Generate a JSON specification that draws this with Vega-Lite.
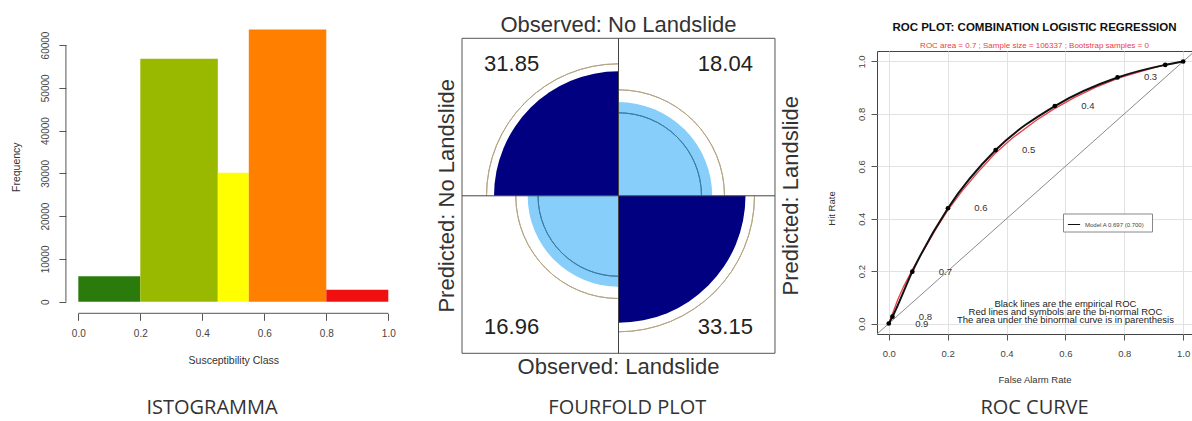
{
 "$schema": "https://vega.github.io/schema/vega-lite/v6.json",
 "background": "white",
 "padding": {"left": 5, "top": 10, "right": 0, "bottom": 0},
 "bounds": "flush",
 "spacing": 10,
 "resolve": {"scale": {"color": "independent", "fill": "independent", "stroke": "independent"}, "legend": {"color": "independent", "fill": "independent", "stroke": "independent"}},
 "config": {"view": {"stroke": null}, "font": "Liberation Sans"},
 "datasets": {
  "bars": [
   {"class": "Very low", "lo": 0, "hi": 0.2, "freq": 5950},
   {"class": "Low", "lo": 0.2, "hi": 0.45, "freq": 56800},
   {"class": "Moderate", "lo": 0.45, "hi": 0.55, "freq": 30150},
   {"class": "High", "lo": 0.55, "hi": 0.8, "freq": 63600},
   {"class": "Very high", "lo": 0.8, "hi": 1.0, "freq": 2800}
  ],
  "cells": [
   {"observed": "No Landslide", "predicted": "No Landslide", "pct": 31.85, "lo": 28.4, "hi": 35.81},
   {"observed": "No Landslide", "predicted": "Landslide", "pct": 18.04, "lo": 14.16, "hi": 23.09},
   {"observed": "Landslide", "predicted": "No Landslide", "pct": 16.96, "lo": 13.31, "hi": 21.69},
   {"observed": "Landslide", "predicted": "Landslide", "pct": 33.15, "lo": 29.6, "hi": 38.02}
  ],
  "roc": [
   {"threshold": 0.9, "far": 0, "hr": 0},
   {"threshold": 0.8, "far": 0.0125, "hr": 0.026},
   {"threshold": 0.7, "far": 0.08, "hr": 0.198},
   {"threshold": 0.6, "far": 0.201, "hr": 0.44},
   {"threshold": 0.5, "far": 0.363, "hr": 0.662},
   {"threshold": 0.4, "far": 0.564, "hr": 0.83},
   {"threshold": 0.3, "far": 0.777, "hr": 0.939},
   {"threshold": 0.2, "far": 0.939, "hr": 0.987},
   {"threshold": 0.1, "far": 1, "hr": 1}
  ],
  "binormal": [
   {"far": 0, "hr": 0}, {"far": 0.01, "hr": 0.03}, {"far": 0.03, "hr": 0.09},
   {"far": 0.05, "hr": 0.14}, {"far": 0.08, "hr": 0.205}, {"far": 0.12, "hr": 0.283},
   {"far": 0.16, "hr": 0.36}, {"far": 0.2, "hr": 0.432}, {"far": 0.25, "hr": 0.507},
   {"far": 0.3, "hr": 0.574}, {"far": 0.36, "hr": 0.648}, {"far": 0.42, "hr": 0.708},
   {"far": 0.5, "hr": 0.775}, {"far": 0.56, "hr": 0.818}, {"far": 0.63, "hr": 0.862},
   {"far": 0.7, "hr": 0.9}, {"far": 0.78, "hr": 0.936}, {"far": 0.86, "hr": 0.963},
   {"far": 0.93, "hr": 0.985}, {"far": 1, "hr": 1}
  ],
  "one": [{}]
 },
 "hconcat": [
  {
   "width": 395.7, "height": 303.3,
   "title": {"text": "ISTOGRAMMA", "orient": "bottom", "frame": "group", "anchor": "middle", "dx": 9.2, "offset": 32.5, "font": "Open Sans", "fontSize": 20, "fontWeight": "normal", "color": "#333333"},
   "layer": [
    {"data": {"name": "bars"}, "mark": {"type": "rect"},
     "encoding": {
      "x": {"field": "lo", "type": "quantitative", "scale": {"domain": [-0.2365, 1.04], "nice": false, "zero": false},
            "axis": {"values": [0, 0.2, 0.4, 0.6, 0.8, 1], "format": ".1f", "domain": false, "grid": false, "labelFlush": false, "labelOverlap": false, "tickSize": 7, "tickColor": "#555", "labelPadding": 8, "labelFontSize": 10, "labelColor": "#444", "title": "Susceptibility Class", "titleFontSize": 10.5, "titleFontWeight": "normal", "titleColor": "#333", "titlePadding": 17, "titleX": 228.3}},
      "x2": {"field": "hi"},
      "y": {"field": "freq", "type": "quantitative", "scale": {"domain": [-2711, 68181], "nice": false, "zero": false},
            "axis": {"values": [0, 10000, 20000, 30000, 40000, 50000, 60000], "format": "d", "labelAngle": 270, "domain": false, "grid": false, "labelFlush": false, "labelOverlap": false, "offset": -60.9, "tickSize": 7, "tickColor": "#555", "labelPadding": 8, "labelFontSize": 10, "labelColor": "#444", "title": "Frequency", "titleFontSize": 10.5, "titleFontWeight": "normal", "titleColor": "#333", "titlePadding": 19, "titleY": 156.7}},
      "y2": {"datum": 0},
      "fill": {"field": "class", "type": "nominal", "scale": {"domain": ["Very low", "Low", "Moderate", "High", "Very high"], "range": ["#2a7a0c", "#99b800", "#ffff00", "#ff8000", "#f01010"]}, "legend": null}
     }},
    {"data": {"name": "one"}, "mark": {"type": "rule", "color": "#555", "strokeWidth": 1},
     "encoding": {
      "x": {"datum": 0, "type": "quantitative", "scale": {"domain": [-0.2365, 1.04], "nice": false, "zero": false}},
      "x2": {"datum": 1},
      "y": {"datum": -2711, "type": "quantitative", "scale": {"domain": [-2711, 68181], "nice": false, "zero": false}}
     }},
    {"data": {"name": "one"}, "mark": {"type": "rule", "color": "#555", "strokeWidth": 1},
     "encoding": {
      "x": {"datum": -0.04, "type": "quantitative", "scale": {"domain": [-0.2365, 1.04], "nice": false, "zero": false}},
      "y": {"datum": 0, "type": "quantitative", "scale": {"domain": [-2711, 68181], "nice": false, "zero": false}},
      "y2": {"datum": 60000}
     }}
   ]
  },
  {
   "width": 455.8, "height": 343.3,
   "data": {"name": "cells"},
   "title": {"text": "FOURFOLD PLOT", "orient": "bottom", "frame": "group", "anchor": "middle", "dx": -11.6, "offset": 19.5, "font": "Open Sans", "fontSize": 20, "fontWeight": "normal", "color": "#333333"},
   "layer": [
    {"data": {"name": "one"}, "mark": {"type": "rect", "filled": false, "color": "#555", "strokeWidth": 1},
     "encoding": {
      "x": {"datum": -1, "type": "quantitative", "scale": {"domain": [-1.3259, 1.5866], "nice": false, "zero": false}, "axis": null},
      "x2": {"datum": 1},
      "y": {"datum": -1, "type": "quantitative", "scale": {"domain": [-1, 1.1797], "nice": false, "zero": false}, "axis": null},
      "y2": {"datum": 1}
     }},
    {"transform": [{"filter": "datum.observed == 'No Landslide' && datum.predicted == 'Landslide'"}],
     "layer": [
      {"mark": {"type": "arc", "theta": 0, "theta2": 1.5708, "color": "#87cefa"},
       "encoding": {
        "x": {"datum": 0, "type": "quantitative", "scale": {"domain": [-1.3259, 1.5866], "nice": false, "zero": false}, "axis": null},
        "y": {"datum": 0, "type": "quantitative", "scale": {"domain": [-1, 1.1797], "nice": false, "zero": false}, "axis": null},
        "radius": {"field": "pct", "type": "quantitative", "scale": {"type": "sqrt", "domain": [0, 33.15], "range": [0, 127], "zero": true}, "legend": null}
       }},
      {"mark": {"type": "arc", "theta": 0, "theta2": 1.5708, "filled": false, "color": "#3a7ca5", "strokeWidth": 1},
       "encoding": {
        "x": {"datum": 0, "type": "quantitative", "scale": {"domain": [-1.3259, 1.5866], "nice": false, "zero": false}, "axis": null},
        "y": {"datum": 0, "type": "quantitative", "scale": {"domain": [-1, 1.1797], "nice": false, "zero": false}, "axis": null},
        "radius": {"field": "lo", "type": "quantitative", "scale": {"type": "sqrt", "domain": [0, 33.15], "range": [0, 127], "zero": true}, "legend": null},
        "radius2": {"field": "lo"}
       }},
      {"mark": {"type": "arc", "theta": 0, "theta2": 1.5708, "filled": false, "color": "#b5a585", "strokeWidth": 1},
       "encoding": {
        "x": {"datum": 0, "type": "quantitative", "scale": {"domain": [-1.3259, 1.5866], "nice": false, "zero": false}, "axis": null},
        "y": {"datum": 0, "type": "quantitative", "scale": {"domain": [-1, 1.1797], "nice": false, "zero": false}, "axis": null},
        "radius": {"field": "hi", "type": "quantitative", "scale": {"type": "sqrt", "domain": [0, 33.15], "range": [0, 127], "zero": true}, "legend": null},
        "radius2": {"field": "hi"}
       }},
      {"mark": {"type": "text", "fontSize": 22, "color": "#222", "align": "center", "baseline": "middle"},
       "encoding": {
        "x": {"datum": 0.683, "type": "quantitative", "scale": {"domain": [-1.3259, 1.5866], "nice": false, "zero": false}, "axis": null},
        "y": {"datum": 0.835, "type": "quantitative", "scale": {"domain": [-1, 1.1797], "nice": false, "zero": false}, "axis": null},
        "text": {"field": "pct", "type": "quantitative", "format": ".2f"}
       }}
     ]},
    {"transform": [{"filter": "datum.observed == 'Landslide' && datum.predicted == 'Landslide'"}],
     "layer": [
      {"mark": {"type": "arc", "theta": 1.5708, "theta2": 3.1416, "color": "#000080"},
       "encoding": {
        "x": {"datum": 0, "type": "quantitative", "scale": {"domain": [-1.3259, 1.5866], "nice": false, "zero": false}, "axis": null},
        "y": {"datum": 0, "type": "quantitative", "scale": {"domain": [-1, 1.1797], "nice": false, "zero": false}, "axis": null},
        "radius": {"field": "pct", "type": "quantitative", "scale": {"type": "sqrt", "domain": [0, 33.15], "range": [0, 127], "zero": true}, "legend": null}
       }},
      {"mark": {"type": "arc", "theta": 1.5708, "theta2": 3.1416, "filled": false, "color": "#b5a585", "strokeWidth": 1},
       "encoding": {
        "x": {"datum": 0, "type": "quantitative", "scale": {"domain": [-1.3259, 1.5866], "nice": false, "zero": false}, "axis": null},
        "y": {"datum": 0, "type": "quantitative", "scale": {"domain": [-1, 1.1797], "nice": false, "zero": false}, "axis": null},
        "radius": {"field": "hi", "type": "quantitative", "scale": {"type": "sqrt", "domain": [0, 33.15], "range": [0, 127], "zero": true}, "legend": null},
        "radius2": {"field": "hi"}
       }},
      {"mark": {"type": "text", "fontSize": 22, "color": "#222", "align": "center", "baseline": "middle"},
       "encoding": {
        "x": {"datum": 0.683, "type": "quantitative", "scale": {"domain": [-1.3259, 1.5866], "nice": false, "zero": false}, "axis": null},
        "y": {"datum": -0.835, "type": "quantitative", "scale": {"domain": [-1, 1.1797], "nice": false, "zero": false}, "axis": null},
        "text": {"field": "pct", "type": "quantitative", "format": ".2f"}
       }}
     ]},
    {"transform": [{"filter": "datum.observed == 'Landslide' && datum.predicted == 'No Landslide'"}],
     "layer": [
      {"mark": {"type": "arc", "theta": 3.1416, "theta2": 4.7124, "color": "#87cefa"},
       "encoding": {
        "x": {"datum": 0, "type": "quantitative", "scale": {"domain": [-1.3259, 1.5866], "nice": false, "zero": false}, "axis": null},
        "y": {"datum": 0, "type": "quantitative", "scale": {"domain": [-1, 1.1797], "nice": false, "zero": false}, "axis": null},
        "radius": {"field": "pct", "type": "quantitative", "scale": {"type": "sqrt", "domain": [0, 33.15], "range": [0, 127], "zero": true}, "legend": null}
       }},
      {"mark": {"type": "arc", "theta": 3.1416, "theta2": 4.7124, "filled": false, "color": "#3a7ca5", "strokeWidth": 1},
       "encoding": {
        "x": {"datum": 0, "type": "quantitative", "scale": {"domain": [-1.3259, 1.5866], "nice": false, "zero": false}, "axis": null},
        "y": {"datum": 0, "type": "quantitative", "scale": {"domain": [-1, 1.1797], "nice": false, "zero": false}, "axis": null},
        "radius": {"field": "lo", "type": "quantitative", "scale": {"type": "sqrt", "domain": [0, 33.15], "range": [0, 127], "zero": true}, "legend": null},
        "radius2": {"field": "lo"}
       }},
      {"mark": {"type": "arc", "theta": 3.1416, "theta2": 4.7124, "filled": false, "color": "#b5a585", "strokeWidth": 1},
       "encoding": {
        "x": {"datum": 0, "type": "quantitative", "scale": {"domain": [-1.3259, 1.5866], "nice": false, "zero": false}, "axis": null},
        "y": {"datum": 0, "type": "quantitative", "scale": {"domain": [-1, 1.1797], "nice": false, "zero": false}, "axis": null},
        "radius": {"field": "hi", "type": "quantitative", "scale": {"type": "sqrt", "domain": [0, 33.15], "range": [0, 127], "zero": true}, "legend": null},
        "radius2": {"field": "hi"}
       }},
      {"mark": {"type": "text", "fontSize": 22, "color": "#222", "align": "center", "baseline": "middle"},
       "encoding": {
        "x": {"datum": -0.683, "type": "quantitative", "scale": {"domain": [-1.3259, 1.5866], "nice": false, "zero": false}, "axis": null},
        "y": {"datum": -0.835, "type": "quantitative", "scale": {"domain": [-1, 1.1797], "nice": false, "zero": false}, "axis": null},
        "text": {"field": "pct", "type": "quantitative", "format": ".2f"}
       }}
     ]},
    {"transform": [{"filter": "datum.observed == 'No Landslide' && datum.predicted == 'No Landslide'"}],
     "layer": [
      {"mark": {"type": "arc", "theta": 4.7124, "theta2": 6.2832, "color": "#000080"},
       "encoding": {
        "x": {"datum": 0, "type": "quantitative", "scale": {"domain": [-1.3259, 1.5866], "nice": false, "zero": false}, "axis": null},
        "y": {"datum": 0, "type": "quantitative", "scale": {"domain": [-1, 1.1797], "nice": false, "zero": false}, "axis": null},
        "radius": {"field": "pct", "type": "quantitative", "scale": {"type": "sqrt", "domain": [0, 33.15], "range": [0, 127], "zero": true}, "legend": null}
       }},
      {"mark": {"type": "arc", "theta": 4.7124, "theta2": 6.2832, "filled": false, "color": "#b5a585", "strokeWidth": 1},
       "encoding": {
        "x": {"datum": 0, "type": "quantitative", "scale": {"domain": [-1.3259, 1.5866], "nice": false, "zero": false}, "axis": null},
        "y": {"datum": 0, "type": "quantitative", "scale": {"domain": [-1, 1.1797], "nice": false, "zero": false}, "axis": null},
        "radius": {"field": "hi", "type": "quantitative", "scale": {"type": "sqrt", "domain": [0, 33.15], "range": [0, 127], "zero": true}, "legend": null},
        "radius2": {"field": "hi"}
       }},
      {"mark": {"type": "text", "fontSize": 22, "color": "#222", "align": "center", "baseline": "middle"},
       "encoding": {
        "x": {"datum": -0.683, "type": "quantitative", "scale": {"domain": [-1.3259, 1.5866], "nice": false, "zero": false}, "axis": null},
        "y": {"datum": 0.835, "type": "quantitative", "scale": {"domain": [-1, 1.1797], "nice": false, "zero": false}, "axis": null},
        "text": {"field": "pct", "type": "quantitative", "format": ".2f"}
       }}
     ]},
    {"data": {"name": "one"}, "mark": {"type": "rule", "color": "#444", "strokeWidth": 1},
     "encoding": {
      "x": {"datum": 0, "type": "quantitative", "scale": {"domain": [-1.3259, 1.5866], "nice": false, "zero": false}, "axis": null},
      "y": {"datum": -1, "type": "quantitative", "scale": {"domain": [-1, 1.1797], "nice": false, "zero": false}, "axis": null},
      "y2": {"datum": 1}
     }},
    {"data": {"name": "one"}, "mark": {"type": "rule", "color": "#444", "strokeWidth": 1},
     "encoding": {
      "x": {"datum": -1, "type": "quantitative", "scale": {"domain": [-1.3259, 1.5866], "nice": false, "zero": false}, "axis": null},
      "x2": {"datum": 1},
      "y": {"datum": 0, "type": "quantitative", "scale": {"domain": [-1, 1.1797], "nice": false, "zero": false}, "axis": null}
     }},
    {"data": {"name": "one"}, "mark": {"type": "text", "fontSize": 22, "color": "#333", "align": "center", "baseline": "middle"},
     "encoding": {
      "x": {"datum": 0, "type": "quantitative", "scale": {"domain": [-1.3259, 1.5866], "nice": false, "zero": false}, "axis": null},
      "y": {"datum": 1.085, "type": "quantitative", "scale": {"domain": [-1, 1.1797], "nice": false, "zero": false}, "axis": null},
      "text": {"value": "Observed: No Landslide"}
     }},
    {"data": {"name": "one"}, "mark": {"type": "text", "fontSize": 22, "color": "#333", "align": "center", "baseline": "middle"},
     "encoding": {
      "x": {"datum": 0, "type": "quantitative", "scale": {"domain": [-1.3259, 1.5866], "nice": false, "zero": false}, "axis": null},
      "y": {"datum": -1.087, "type": "quantitative", "scale": {"domain": [-1, 1.1797], "nice": false, "zero": false}, "axis": null},
      "text": {"value": "Observed: Landslide"}
     }},
    {"data": {"name": "one"}, "mark": {"type": "text", "fontSize": 22, "color": "#333", "align": "center", "baseline": "middle", "angle": 270},
     "encoding": {
      "x": {"datum": -1.094, "type": "quantitative", "scale": {"domain": [-1.3259, 1.5866], "nice": false, "zero": false}, "axis": null},
      "y": {"datum": 0, "type": "quantitative", "scale": {"domain": [-1, 1.1797], "nice": false, "zero": false}, "axis": null},
      "text": {"value": "Predicted: No Landslide"}
     }},
    {"data": {"name": "one"}, "mark": {"type": "text", "fontSize": 22, "color": "#333", "align": "center", "baseline": "middle", "angle": 270},
     "encoding": {
      "x": {"datum": 1.104, "type": "quantitative", "scale": {"domain": [-1.3259, 1.5866], "nice": false, "zero": false}, "axis": null},
      "y": {"datum": 0, "type": "quantitative", "scale": {"domain": [-1, 1.1797], "nice": false, "zero": false}, "axis": null},
      "text": {"value": "Predicted: Landslide"}
     }}
   ]
  },
  {
   "vconcat": [
    {
     "width": 315, "height": 40.2,
     "data": {"name": "one"},
     "mark": {"type": "text"},
     "encoding": {"text": {"value": ""}},
     "title": {"text": "ROC PLOT: COMBINATION LOGISTIC REGRESSION", "subtitle": "ROC area = 0.7 ; Sample size = 106337 ; Bootstrap samples = 0", "orient": "bottom", "frame": "group", "anchor": "middle", "offset": -28.2, "font": "Liberation Sans", "fontSize": 11.5, "fontWeight": "bold", "color": "#111", "subtitleFont": "Liberation Sans", "subtitleFontSize": 8, "subtitleColor": "#ee3b4b", "subtitlePadding": 8}
    },
    {
     "width": 315, "height": 283,
     "view": {"stroke": "#444", "strokeWidth": 1},
     "title": {"text": "ROC CURVE", "orient": "bottom", "frame": "group", "anchor": "middle", "offset": 14, "font": "Open Sans", "fontSize": 20, "fontWeight": "normal", "color": "#333333"},
     "layer": [
      {"data": {"name": "binormal"}, "mark": {"type": "line", "color": "#e8404a", "strokeWidth": 1.3},
       "encoding": {
        "x": {"field": "far", "type": "quantitative", "scale": {"domain": [-0.04, 1.03], "nice": false, "zero": false},
              "axis": {"title": "False Alarm Rate", "values": [0, 0.1, 0.2, 0.3, 0.4, 0.5, 0.6, 0.7, 0.8, 0.9, 1], "labelExpr": "round(datum.value*10)%2==0 ? format(datum.value,'.1f') : ''", "grid": true, "gridColor": "#e2e2e2", "domain": false, "labelFlush": false, "labelOverlap": false, "tickSize": 6, "tickColor": "#555", "tickOpacity": {"condition": {"test": "round(datum.value*10)%2!=0", "value": 0}, "value": 1}, "labelFontSize": 9.5, "labelColor": "#444", "labelPadding": 8.5, "titleFontSize": 9.5, "titleFontWeight": "normal", "titleColor": "#333", "titlePadding": 16}},
        "y": {"field": "hr", "type": "quantitative", "scale": {"domain": [-0.04, 1.04], "nice": false, "zero": false},
              "axis": {"title": "Hit Rate", "values": [0, 0.1, 0.2, 0.3, 0.4, 0.5, 0.6, 0.7, 0.8, 0.9, 1], "labelExpr": "round(datum.value*10)%2==0 ? format(datum.value,'.1f') : ''", "labelAngle": 270, "grid": true, "gridColor": "#e2e2e2", "domain": false, "labelFlush": false, "labelOverlap": false, "tickSize": 6, "tickColor": "#555", "tickOpacity": {"condition": {"test": "round(datum.value*10)%2!=0", "value": 0}, "value": 1}, "labelFontSize": 9.5, "labelColor": "#444", "labelPadding": 5, "titleFontSize": 9.5, "titleFontWeight": "normal", "titleColor": "#333", "titlePadding": 20, "titleY": 157}}
       }},
      {"data": {"name": "one"}, "mark": {"type": "rule", "color": "#8a8a8a", "strokeWidth": 1, "clip": true},
       "encoding": {
        "x": {"datum": -0.04, "type": "quantitative", "scale": {"domain": [-0.04, 1.03], "nice": false, "zero": false}},
        "y": {"datum": -0.04, "type": "quantitative", "scale": {"domain": [-0.04, 1.04], "nice": false, "zero": false}},
        "x2": {"datum": 1.04},
        "y2": {"datum": 1.04}
       }},
      {"data": {"name": "roc"}, "mark": {"type": "line", "strokeWidth": 2, "interpolate": "monotone"},
       "encoding": {
        "x": {"field": "far", "type": "quantitative", "scale": {"domain": [-0.04, 1.03], "nice": false, "zero": false}},
        "y": {"field": "hr", "type": "quantitative", "scale": {"domain": [-0.04, 1.04], "nice": false, "zero": false}},
        "stroke": {"datum": "Model A   0.697 (0.700)", "type": "nominal", "scale": {"range": ["#111111"]},
                  "legend": {"orient": "none", "legendX": 186, "legendY": 203.5, "title": null, "strokeColor": "#888", "fillColor": "white", "padding": 4, "symbolType": "stroke", "symbolSize": 150, "symbolStrokeWidth": 1, "labelFontSize": 6, "labelColor": "#444"}}
       }},
      {"data": {"name": "roc"}, "mark": {"type": "circle", "color": "#000", "size": 22, "opacity": 1},
       "encoding": {
        "x": {"field": "far", "type": "quantitative", "scale": {"domain": [-0.04, 1.03], "nice": false, "zero": false}},
        "y": {"field": "hr", "type": "quantitative", "scale": {"domain": [-0.04, 1.04], "nice": false, "zero": false}}
       }},
      {"data": {"name": "roc"}, "transform": [{"filter": "datum.far < 0.9"}],
       "mark": {"type": "text", "dx": 33, "fontSize": 9.5, "color": "#333", "align": "center", "baseline": "middle"},
       "encoding": {
        "x": {"field": "far", "type": "quantitative", "scale": {"domain": [-0.04, 1.03], "nice": false, "zero": false}},
        "y": {"field": "hr", "type": "quantitative", "scale": {"domain": [-0.04, 1.04], "nice": false, "zero": false}},
        "text": {"field": "threshold", "type": "quantitative", "format": ".1f"}
       }},
      {"data": {"name": "one"}, "mark": {"type": "text", "fontSize": 9.5, "lineHeight": 7.8, "color": "#222", "align": "center", "baseline": "middle"},
       "encoding": {
        "x": {"datum": 0.6, "type": "quantitative", "scale": {"domain": [-0.04, 1.03], "nice": false, "zero": false}},
        "y": {"datum": 0.074, "type": "quantitative", "scale": {"domain": [-0.04, 1.04], "nice": false, "zero": false}},
        "text": {"value": ["Black lines are the empirical ROC", "Red lines and symbols are the bi-normal ROC", "The area under the binormal curve is in parenthesis"]}
       }}
     ]
    }
   ],
   "spacing": 0,
   "bounds": "flush"
  }
 ]
}
